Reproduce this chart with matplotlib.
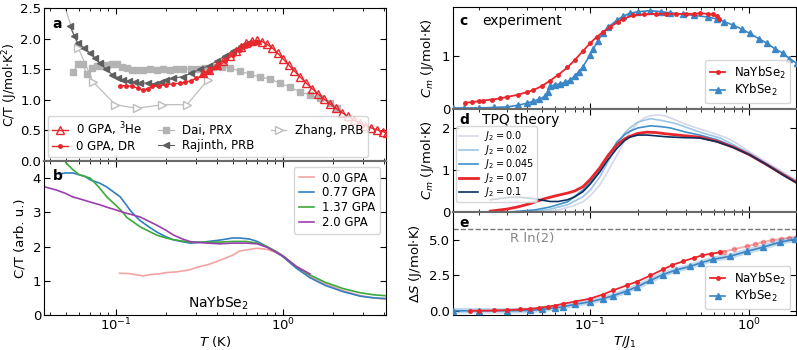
import numpy as np
import matplotlib
matplotlib.use("Agg")
import matplotlib.pyplot as plt
from matplotlib.ticker import LogLocator, NullFormatter

plt.rcParams['font.family'] = ['DejaVu Sans']
plt.rcParams['mathtext.fontset'] = 'dejavusans'

# ---------------- panel a ----------------
he3_T = [0.33, 0.36, 0.40, 0.44, 0.48, 0.52, 0.56, 0.60, 0.65, 0.70, 0.75, 0.80, 0.86, 0.93, 1.0, 1.08,
         1.17, 1.27, 1.38, 1.50, 1.63, 1.77, 1.92, 2.08, 2.26, 2.45, 2.66, 2.88, 3.12, 3.38, 3.66, 3.97, 4.2]
he3_C = [1.43, 1.48, 1.57, 1.64, 1.72, 1.80, 1.87, 1.92, 1.96, 1.97, 1.95, 1.91, 1.85, 1.76, 1.67, 1.57,
         1.47, 1.37, 1.27, 1.18, 1.09, 1.01, 0.93, 0.86, 0.79, 0.73, 0.67, 0.62, 0.58, 0.54, 0.51, 0.48, 0.46]
dr_T = [0.105, 0.115, 0.125, 0.135, 0.145, 0.155, 0.165, 0.18, 0.2, 0.22, 0.24, 0.26, 0.28, 0.30, 0.33,
        0.36, 0.40, 0.45, 0.50, 0.55, 0.60, 0.65, 0.70]
dr_C = [1.23, 1.23, 1.22, 1.19, 1.16, 1.18, 1.22, 1.23, 1.25, 1.26, 1.27, 1.29, 1.31, 1.35, 1.40,
        1.45, 1.53, 1.63, 1.73, 1.82, 1.88, 1.93, 1.95]
dai_T = [0.055, 0.059, 0.063, 0.067, 0.072, 0.077, 0.083, 0.088, 0.095, 0.101, 0.108, 0.116, 0.125, 0.133,
         0.145, 0.16, 0.175, 0.19, 0.21, 0.23, 0.25, 0.28, 0.31, 0.34, 0.38, 0.43, 0.48, 0.55, 0.63, 0.73,
         0.84, 0.96, 1.10, 1.26, 1.45, 1.67, 1.91, 2.1]
dai_C = [1.45, 1.58, 1.58, 1.42, 1.52, 1.55, 1.56, 1.57, 1.58, 1.58, 1.54, 1.52, 1.49, 1.49,
         1.48, 1.50, 1.49, 1.50, 1.49, 1.50, 1.50, 1.51, 1.50, 1.52, 1.54, 1.53, 1.52, 1.47, 1.42, 1.37,
         1.34, 1.27, 1.21, 1.13, 1.08, 1.03, 0.95, 0.87]
raj_T = [0.053, 0.056, 0.059, 0.064, 0.070, 0.075, 0.080, 0.087, 0.095, 0.103, 0.110, 0.12, 0.13, 0.14,
         0.155, 0.17, 0.185, 0.2, 0.22, 0.25, 0.28, 0.32, 0.36, 0.40, 0.45, 0.50, 0.56, 0.62]
raj_C = [2.2, 2.05, 1.93, 1.85, 1.76, 1.68, 1.60, 1.50, 1.41, 1.36, 1.32, 1.30, 1.29, 1.28,
         1.27, 1.26, 1.29, 1.32, 1.35, 1.38, 1.43, 1.50, 1.56, 1.63, 1.72, 1.80, 1.88, 1.93]
zh_T = [0.045, 0.0595, 0.073, 0.099, 0.133, 0.188, 0.266, 0.355]
zh_C = [2.85, 1.84, 1.29, 0.92, 0.86, 0.92, 0.92, 1.33]

# ---------------- panel b ----------------
p0_T = [0.105, 0.12, 0.135, 0.145, 0.16, 0.18, 0.2, 0.23, 0.26, 0.28, 0.3, 0.32, 0.36, 0.42, 0.5, 0.55,
        0.6, 0.7, 0.8, 0.9, 1.0, 1.2, 1.45, 1.8, 2.3, 2.9, 3.5, 4.2]
p0_C = [1.22, 1.21, 1.17, 1.14, 1.18, 1.2, 1.24, 1.26, 1.3, 1.33, 1.38, 1.42, 1.48, 1.6, 1.75, 1.87,
        1.9, 1.95, 1.92, 1.83, 1.72, 1.4, 1.13, 0.9, 0.71, 0.57, 0.5, 0.45]
p077_T = [0.045, 0.05, 0.055, 0.06, 0.065, 0.07, 0.08, 0.088, 0.095, 0.106, 0.115, 0.121, 0.13, 0.14, 0.16,
          0.176, 0.2, 0.22, 0.25, 0.28, 0.32, 0.36, 0.42, 0.5, 0.55, 0.63, 0.7, 0.8, 0.9, 1.0, 1.2, 1.45,
          1.8, 2.3, 2.9, 3.5, 4.2]
p077_C = [4.12, 4.15, 4.15, 4.1, 4.05, 3.95, 3.85, 3.74, 3.62, 3.45, 3.22, 3.07, 2.9, 2.75, 2.55,
          2.42, 2.28, 2.2, 2.14, 2.1, 2.12, 2.15, 2.19, 2.25, 2.25, 2.22, 2.15, 2.0, 1.85, 1.7, 1.37, 1.09,
          0.86, 0.68, 0.55, 0.5, 0.48]
p137_T = [0.05, 0.055, 0.06, 0.065, 0.07, 0.075, 0.08, 0.088, 0.095, 0.1, 0.11, 0.116, 0.13, 0.14, 0.16,
          0.176, 0.2, 0.22, 0.25, 0.28, 0.35, 0.42, 0.5, 0.6, 0.7, 0.8, 0.9, 1.0, 1.2, 1.45, 1.8, 2.3, 2.9,
          3.5, 4.2]
p137_C = [4.45, 4.25, 4.1, 4.05, 4.0, 3.85, 3.7, 3.45, 3.3, 3.2, 3.0, 2.85, 2.68, 2.57, 2.43,
          2.33, 2.25, 2.2, 2.16, 2.13, 2.13, 2.13, 2.15, 2.15, 2.1, 2.0, 1.87, 1.73, 1.42, 1.17, 0.95, 0.77, 0.65,
          0.59, 0.56]
p20_T = [0.037, 0.044, 0.05, 0.055, 0.06, 0.07, 0.08, 0.088, 0.1, 0.11, 0.125, 0.14, 0.16, 0.176, 0.2,
         0.22, 0.25, 0.28, 0.35, 0.42, 0.5, 0.6, 0.7, 0.8, 0.9, 1.0, 1.2, 1.45]
p20_C = [3.75, 3.65, 3.55, 3.45, 3.4, 3.3, 3.22, 3.15, 3.07, 3.0, 2.93, 2.86, 2.72, 2.62, 2.47,
         2.34, 2.22, 2.14, 2.1, 2.08, 2.1, 2.1, 2.08, 1.98, 1.85, 1.72, 1.42, 1.2]

# ---------------- panel c ----------------
na_c_t = [0.0164, 0.018, 0.02, 0.0213, 0.024, 0.027, 0.03, 0.035, 0.04, 0.044, 0.05, 0.056, 0.063, 0.072,
          0.08, 0.09, 0.1, 0.11, 0.12, 0.134, 0.15, 0.16, 0.186, 0.22, 0.26, 0.30, 0.35, 0.4, 0.45, 0.49,
          0.55, 0.59, 0.63, 0.65]
na_c_v = [0.12, 0.13, 0.15, 0.16, 0.18, 0.2, 0.23, 0.27, 0.32, 0.36, 0.44, 0.54, 0.65, 0.79,
          0.93, 1.1, 1.25, 1.37, 1.46, 1.56, 1.66, 1.71, 1.78, 1.80, 1.81, 1.81, 1.81, 1.81, 1.81, 1.82,
          1.81, 1.8, 1.76, 1.72]
k_c_t = [0.0137, 0.016, 0.02, 0.025, 0.03, 0.035, 0.04, 0.044, 0.048, 0.052, 0.054, 0.056, 0.06, 0.065,
         0.07, 0.075, 0.08, 0.085, 0.09, 0.1, 0.105, 0.112, 0.12, 0.13, 0.148, 0.16, 0.178, 0.2, 0.24, 0.28,
         0.32, 0.385, 0.45, 0.55, 0.63, 0.7, 0.79, 0.9, 1.01, 1.15, 1.3, 1.45, 1.64, 1.8, 2.0]
k_c_v = [0.02, 0.02, 0.02, 0.03, 0.04, 0.07, 0.11, 0.15, 0.19, 0.24, 0.33, 0.43, 0.46, 0.48,
         0.51, 0.55, 0.63, 0.71, 0.8, 1.03, 1.15, 1.3, 1.44, 1.56, 1.69, 1.76, 1.82, 1.85, 1.87, 1.85,
         1.83, 1.80, 1.78, 1.75, 1.71, 1.66, 1.6, 1.52, 1.44, 1.34, 1.25, 1.15, 1.06, 0.96, 0.87]

# ---------------- panel d (TPQ) ----------------
j2_labels = ['$J_2 = 0.0$', '$J_2 = 0.02$', '$J_2 = 0.045$', '$J_2 = 0.07$', '$J_2 = 0.1$']
j00_t = [0.051, 0.065, 0.08, 0.09, 0.1, 0.115, 0.13, 0.148, 0.165, 0.178, 0.2, 0.22, 0.24, 0.27, 0.3, 0.34,
         0.38, 0.45, 0.57, 0.73, 0.85, 1.01, 1.3, 1.64, 2.0]
j00_v = [0.0, 0.06, 0.16, 0.24, 0.38, 0.64, 0.98, 1.36, 1.7, 1.9, 2.12, 2.24, 2.29, 2.31, 2.28, 2.2,
         2.12, 2.02, 1.9, 1.76, 1.62, 1.43, 1.18, 0.95, 0.76]
j02_t = [0.040, 0.055, 0.072, 0.09, 0.1, 0.115, 0.13, 0.148, 0.165, 0.178, 0.2, 0.24, 0.28, 0.35, 0.42,
         0.51, 0.66, 0.8, 1.01, 1.3, 1.64, 2.0]
j02_v = [0.0, 0.06, 0.17, 0.36, 0.52, 0.83, 1.2, 1.6, 1.88, 2.0, 2.14, 2.22, 2.18, 2.1, 1.99,
         1.88, 1.76, 1.6, 1.4, 1.15, 0.92, 0.73]
j045_t = [0.031, 0.045, 0.056, 0.072, 0.09, 0.1, 0.115, 0.13, 0.148, 0.165, 0.178, 0.2, 0.24, 0.28, 0.32,
          0.4, 0.49, 0.63, 0.8, 1.01, 1.3, 1.64, 2.0]
j045_v = [0.0, 0.05, 0.12, 0.24, 0.52, 0.7, 1.0, 1.33, 1.67, 1.84, 1.92, 2.0, 2.05, 2.03, 2.0,
          1.9, 1.83, 1.72, 1.56, 1.37, 1.13, 0.9, 0.71]
j07_t = [0.0235, 0.03, 0.035, 0.042, 0.051, 0.06, 0.072, 0.08, 0.09, 0.1, 0.115, 0.13, 0.148, 0.165,
         0.178, 0.2, 0.228, 0.26, 0.30, 0.38, 0.49, 0.63, 0.8, 1.01, 1.3, 1.64, 2.0]
j07_v = [0.02, 0.07, 0.12, 0.2, 0.31, 0.38, 0.45, 0.5, 0.6, 0.77, 1.05, 1.35, 1.6, 1.74,
         1.8, 1.87, 1.9, 1.89, 1.86, 1.82, 1.78, 1.68, 1.54, 1.36, 1.12, 0.89, 0.7]
j10_t = [0.0235, 0.027, 0.0313, 0.036, 0.042, 0.05, 0.056, 0.063, 0.072, 0.08, 0.09, 0.1, 0.115, 0.13,
         0.148, 0.165, 0.178, 0.2, 0.23, 0.3, 0.38, 0.49, 0.63, 0.79, 1.01, 1.3, 1.64, 2.0]
j10_v = [0.29, 0.32, 0.35, 0.35, 0.33, 0.28, 0.25, 0.25, 0.29, 0.36, 0.48, 0.66, 0.95, 1.25,
         1.52, 1.7, 1.78, 1.83, 1.83, 1.79, 1.77, 1.76, 1.67, 1.54, 1.36, 1.12, 0.88, 0.69]

# ---------------- panel e ----------------
na_e_t = [0.0176, 0.02, 0.025, 0.03, 0.036, 0.042, 0.048, 0.054, 0.06, 0.068, 0.08, 0.1, 0.12, 0.14, 0.17,
          0.198, 0.24, 0.288, 0.33, 0.385, 0.45, 0.51, 0.58, 0.66]
na_e_v = [0.0, 0.01, 0.02, 0.05, 0.09, 0.14, 0.2, 0.29, 0.37, 0.5, 0.65, 0.86, 1.15, 1.45, 1.8,
          2.07, 2.5, 2.93, 3.25, 3.5, 3.75, 3.93, 4.05, 4.14]
na_e_hi_t = [0.66, 0.7, 0.8, 0.97, 1.1, 1.22, 1.4, 1.6, 1.8, 2.0]
na_e_hi_v = [4.14, 4.2, 4.35, 4.57, 4.72, 4.86, 5.0, 5.1, 5.17, 5.22]
k_e_t = [0.0137, 0.02, 0.03, 0.042, 0.05, 0.06, 0.068, 0.08, 0.1, 0.12, 0.14, 0.17, 0.198, 0.24, 0.288,
         0.35, 0.425, 0.5, 0.59, 0.76, 0.97, 1.22, 1.57, 1.95]
k_e_v = [0.0, 0.0, 0.0, 0.02, 0.1, 0.2, 0.29, 0.45, 0.64, 0.85, 1.07, 1.4, 1.71, 2.15, 2.57,
         2.9, 3.14, 3.4, 3.64, 3.86, 4.21, 4.5, 4.86, 5.07]
R_ln2 = 8.314 * np.log(2)

RED = '#e8262b'
BLUE = '#3b86c6'
SEP = '#6a6a6a'

fig = plt.figure(figsize=(7.97, 3.5), dpi=100)
W, H = 797.0, 350.0

def add(x0, y0, x1, y1):
    return fig.add_axes([x0 / W, 1 - y1 / H, (x1 - x0) / W, (y1 - y0) / H])

axa = add(44, 8, 386, 161)
axb = add(44, 161, 386, 315)
axc = add(453, 7, 796, 109)
axd = add(453, 109, 796, 212)
axe = add(453, 212, 796, 315)

for ax in [axa, axb, axc, axd, axe]:
    ax.set_xscale('log')
    ax.tick_params(which='both', direction='in', top=True, right=True, labelsize=9.5, pad=2)
    ax.tick_params(axis='x', pad=1.5)
    ax.tick_params(which='major', length=4)
    ax.tick_params(which='minor', length=2)
    ax.xaxis.set_minor_locator(LogLocator(base=10, subs=np.arange(2, 10)))
    ax.xaxis.set_minor_formatter(NullFormatter())

for ax in [axa, axb]:
    ax.set_xlim(0.037, 4.14)
for ax in [axc, axd, axe]:
    ax.set_xlim(0.0137, 1.98)

for ax in [axa, axc, axd]:
    ax.tick_params(labelbottom=False)

# separators
for ax in [axa, axc, axd]:
    ax.spines['bottom'].set_color(SEP)
    ax.spines['bottom'].set_linewidth(1.5)
for ax in [axb, axd, axe]:
    ax.spines['top'].set_color(SEP)
    ax.spines['top'].set_linewidth(1.5)

LEGKW = dict(fontsize=8.5, handlelength=1.3, handletextpad=0.7, labelspacing=0.15, borderpad=0.4)

# ---- a ----
axa.plot(he3_T, he3_C, marker='^', ms=6, mfc='none', mec=RED, color=RED, lw=1, label='0 GPA, $^3$He', zorder=5)
axa.plot(dr_T, dr_C, marker='o', ms=2.5, color=RED, lw=1, label='0 GPA, DR', zorder=6)
axa.plot(dai_T, dai_C, marker='s', ms=4.5, color='#b3b3b3', lw=0.8, ls='-', label='Dai, PRX', zorder=2)
axa.plot(raj_T, raj_C, marker='<', ms=4.5, color='#5e5e5e', lw=0.8, label='Rajinth, PRB', zorder=3)
axa.plot(zh_T, zh_C, marker='>', ms=6, mfc='white', mec='#bdbdbd', color='#bdbdbd', lw=0.9,
         label='Zhang, PRB', zorder=1)
axa.set_ylim(0, 2.5)
axa.set_yticks([0, 0.5, 1.0, 1.5, 2.0, 2.5])
axa.set_ylabel('C/T (J/mol$\\cdot$K$^2$)', fontsize=9)
axa.yaxis.set_label_coords(-0.07, 0.5)
axa.text(0.025, 0.94, 'a', transform=axa.transAxes, fontweight='bold', fontsize=10, va='top')
axa.legend(loc='lower left', ncol=3, bbox_to_anchor=(0.0, 0.0), borderaxespad=0.3,
           columnspacing=1.4, **LEGKW)

# ---- b ----
axb.plot(p0_T, p0_C, color='#f4a3a3', lw=1.2, label='0.0 GPA')
axb.plot(p077_T, p077_C, color='#2f7fc1', lw=1.2, label='0.77 GPA')
axb.plot(p137_T, p137_C, color='#3aaa3a', lw=1.2, label='1.37 GPA')
axb.plot(p20_T, p20_C, color='#9b3fb0', lw=1.2, label='2.0 GPA')
axb.set_ylim(0, 4.5)
axb.set_yticks([0, 1, 2, 3, 4])
axb.set_ylabel('C/T (arb. u.)', fontsize=9.5)
axb.yaxis.set_label_coords(-0.05, 0.5)
axb.set_xlabel('$T$ (K)', fontsize=9.5, labelpad=0)
axb.text(0.025, 0.95, 'b', transform=axb.transAxes, fontweight='bold', fontsize=10, va='top')
axb.text(0.51, 0.075, 'NaYbSe$_2$', transform=axb.transAxes, fontsize=10, ha='center', va='center')
axb.legend(loc='upper right', **LEGKW)

# ---- c ----
axc.plot(na_c_t, na_c_v, marker='o', ms=2.5, color=RED, lw=1.3, label='NaYbSe$_2$', zorder=4)
axc.plot(k_c_t, k_c_v, marker='^', ms=4.5, color=BLUE, lw=1.2, label='KYbSe$_2$', zorder=3)
axc.set_ylim(0, 1.94)
axc.set_yticks([0, 1])
axc.set_ylabel('$C_m$ (J/mol$\\cdot$K)', fontsize=9.5)
axc.text(0.02, 0.93, 'c', transform=axc.transAxes, fontweight='bold', fontsize=10, va='top')
axc.text(0.085, 0.93, 'experiment', transform=axc.transAxes, fontsize=10, va='top')
axc.legend(loc='lower right', **LEGKW)

# ---- d ----
d_cols = ['#d5d7ec', '#9cc5e4', '#3f8fcb', RED, '#0b2f5e']
d_lws = [1.2, 1.2, 1.2, 2.0, 1.2]
d_data = [(j00_t, j00_v), (j02_t, j02_v), (j045_t, j045_v), (j07_t, j07_v), (j10_t, j10_v)]
for (tt, vv), col, lw_, lab in zip(d_data, d_cols, d_lws, j2_labels):
    axd.plot(tt, vv, color=col, lw=lw_, label=lab)
axd.set_ylim(0, 2.45)
axd.set_yticks([0, 1, 2])
axd.set_ylabel('$C_m$ (J/mol$\\cdot$K)', fontsize=9.5)
axd.text(0.02, 0.96, 'd', transform=axd.transAxes, fontweight='bold', fontsize=10, va='top')
axd.text(0.085, 0.96, 'TPQ theory', transform=axd.transAxes, fontsize=10, va='top')
axd.legend(loc='upper left', bbox_to_anchor=(0.0, 0.86), fontsize=7, handlelength=2.0,
           handletextpad=0.6, labelspacing=0.0, borderpad=0.3, borderaxespad=0.3)

# ---- e ----
axe.axhline(R_ln2, color='#777777', ls='--', lw=1)
axe.text(0.165, 5.15, 'R ln(2)', transform=axe.get_yaxis_transform(), color='#888888', fontsize=9.5,
         va='center')
axe.plot(na_e_hi_t, na_e_hi_v, marker='o', ms=3, color=RED, alpha=0.35, lw=1.5, zorder=2)
axe.plot(k_e_t, k_e_v, color=BLUE, alpha=0.3, lw=4, zorder=2)
axe.plot(na_e_t, na_e_v, marker='o', ms=2.5, color=RED, lw=1.3, label='NaYbSe$_2$', zorder=4)
axe.plot(k_e_t, k_e_v, marker='^', ms=4.5, color=BLUE, lw=1.2, label='KYbSe$_2$', zorder=3)
axe.set_ylim(-0.3, 7.0)
axe.set_yticks([0.0, 2.5, 5.0])
axe.set_ylabel('$\\Delta S$ (J/mol$\\cdot$K)', fontsize=9.5)
axe.set_xlabel('$T/J_1$', fontsize=9.5, labelpad=0)
axe.text(0.02, 0.96, 'e', transform=axe.transAxes, fontweight='bold', fontsize=10, va='top')
axe.legend(loc='lower right', **LEGKW)

fig.savefig('out.png', dpi=100)
